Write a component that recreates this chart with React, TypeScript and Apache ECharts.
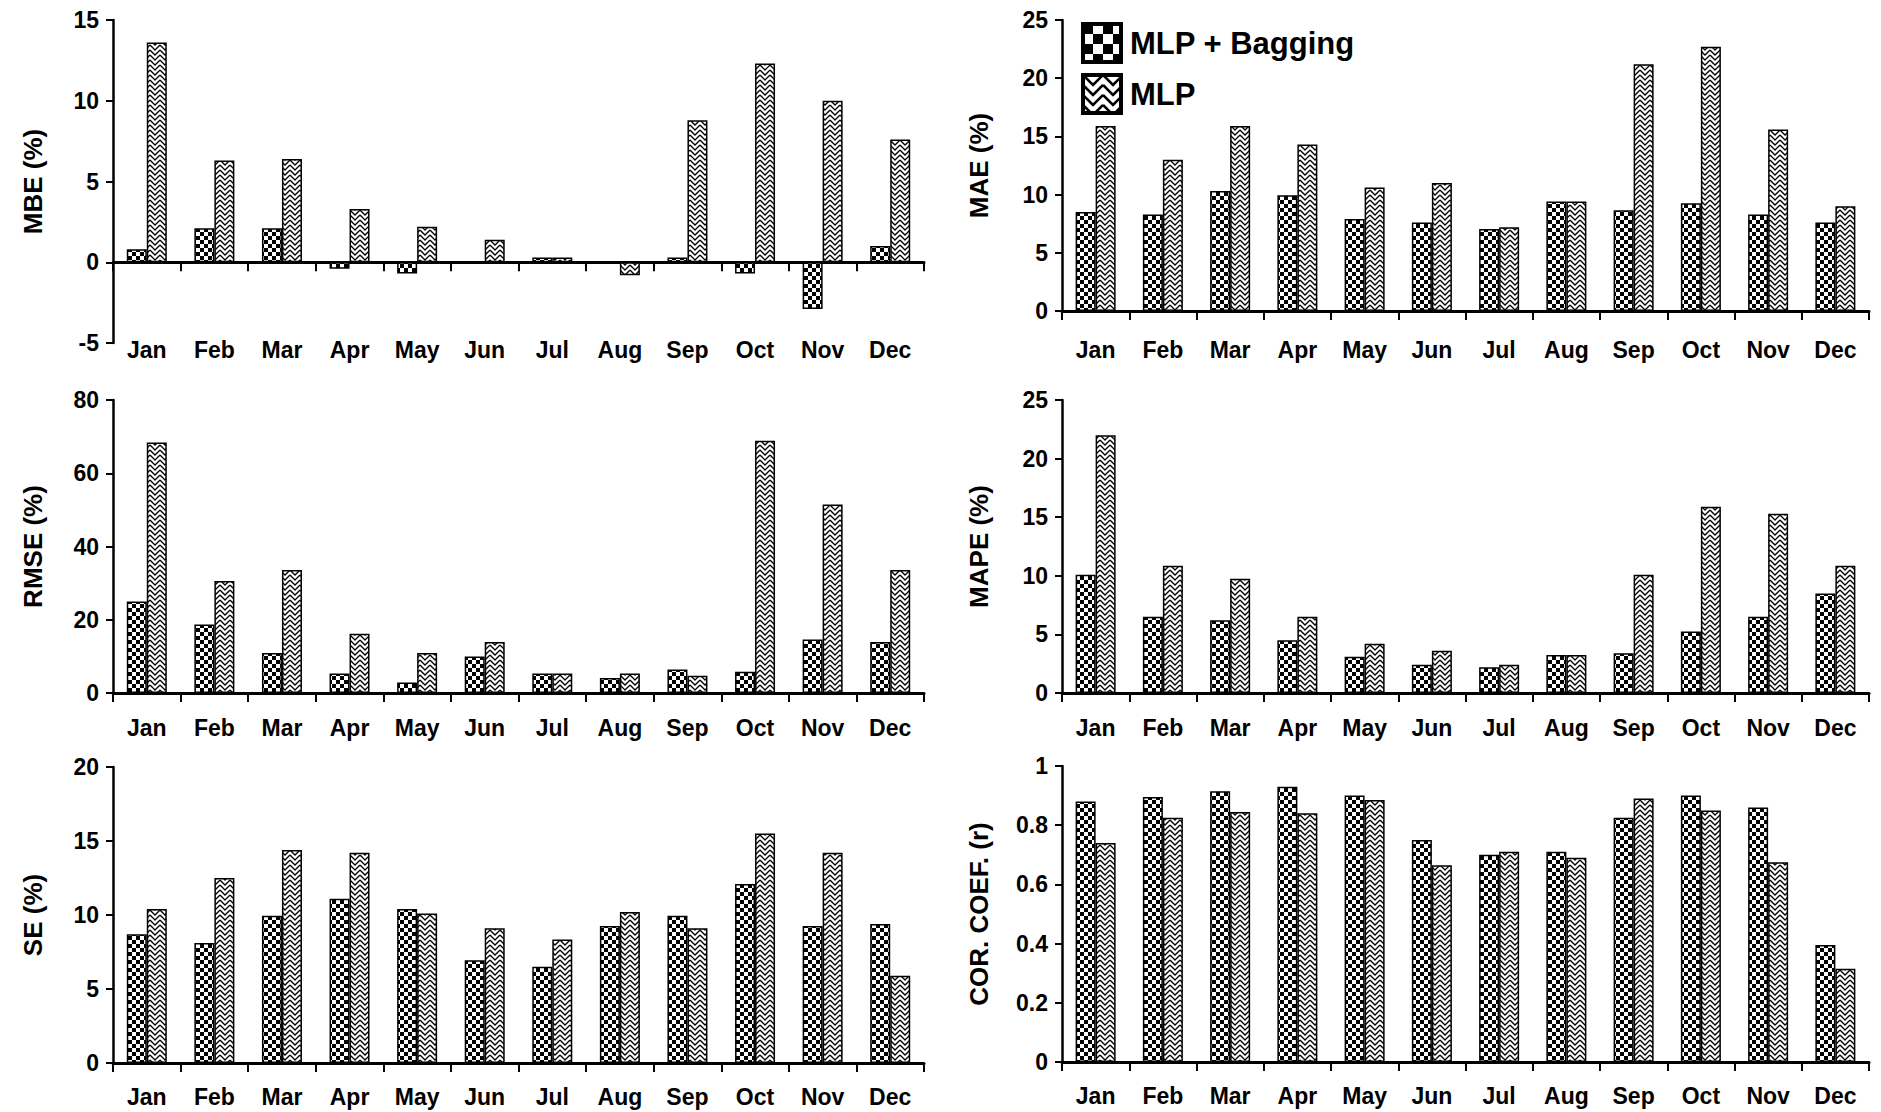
import React, { useEffect, useRef } from "react";
import * as echarts from "echarts";

const months = ["Jan", "Feb", "Mar", "Apr", "May", "Jun", "Jul", "Aug", "Sep", "Oct", "Nov", "Dec"];
const seriesNames = ["MLP + Bagging", "MLP"];

const mbeBagging = [0.8, 2.1, 2.1, -0.4, -0.7, 0, 0.3, 0, 0.3, -0.7, -2.9, 1.0];
const mbeMlp = [13.6, 6.3, 6.4, 3.3, 2.2, 1.4, 0.3, -0.8, 8.8, 12.3, 10.0, 7.6];
const maeBagging = [8.5, 8.3, 10.3, 9.95, 7.9, 7.6, 7.05, 9.4, 8.65, 9.25, 8.3, 7.6];
const maeMlp = [15.9, 13.0, 15.9, 14.3, 10.6, 11.0, 7.2, 9.4, 21.2, 22.7, 15.6, 9.0];
const rmseBagging = [25, 18.7, 10.9, 5.3, 2.9, 10.0, 5.3, 4.1, 6.4, 5.8, 14.6, 13.9];
const rmseMlp = [68.4, 30.6, 33.6, 16.2, 10.9, 13.9, 5.3, 5.3, 4.7, 68.9, 51.5, 33.6];
const mapeBagging = [10.1, 6.5, 6.2, 4.5, 3.1, 2.4, 2.2, 3.25, 3.4, 5.25, 6.5, 8.5];
const mapeMlp = [22.0, 10.85, 9.75, 6.5, 4.2, 3.6, 2.4, 3.25, 10.1, 15.9, 15.3, 10.85];
const seBagging = [8.7, 8.1, 9.95, 11.1, 10.4, 6.95, 6.5, 9.25, 9.95, 12.1, 9.25, 9.4];
const seMlp = [10.4, 12.5, 14.4, 14.2, 10.1, 9.1, 8.35, 10.2, 9.1, 15.5, 14.2, 5.9];
const corBagging = [0.88, 0.895, 0.915, 0.93, 0.9, 0.75, 0.7, 0.71, 0.825, 0.9, 0.86, 0.395];
const corMlp = [0.74, 0.825, 0.845, 0.84, 0.885, 0.665, 0.71, 0.69, 0.89, 0.85, 0.675, 0.315];

const axisTitles = ["MBE (%)", "MAE (%)", "RMSE (%)", "MAPE (%)", "SE (%)", "COR. COEF. (r)"];
const axisMins = [-5, 0, 0, 0, 0, 0];
const axisMaxs = [15, 25, 80, 25, 20, 1];
const axisIntervals = [5, 5, 20, 5, 5, 0.2];

const panelData = [
  [mbeBagging, mbeMlp],
  [maeBagging, maeMlp],
  [rmseBagging, rmseMlp],
  [mapeBagging, mapeMlp],
  [seBagging, seMlp],
  [corBagging, corMlp],
];

const grids = [
  { left: 113, top: 20, width: 811, height: 323 },
  { left: 1062, top: 20, width: 807, height: 291 },
  { left: 113, top: 400, width: 811, height: 293 },
  { left: 1062, top: 400, width: 807, height: 293 },
  { left: 113, top: 767, width: 811, height: 296 },
  { left: 1062, top: 766, width: 807, height: 296 },
];
const xLabelMargins = [-5, 27, 23, 23, 22, 22];
const nameGaps = [67, 70, 67, 70, 67, 70];

const FONT = '"Liberation Sans", Arial, sans-serif';

function checkerPattern(cell: number) {
  const c = document.createElement("canvas");
  c.width = cell * 2;
  c.height = cell * 2;
  const ctx = c.getContext("2d")!;
  ctx.fillStyle = "#fff";
  ctx.fillRect(0, 0, cell * 2, cell * 2);
  ctx.fillStyle = "#000";
  ctx.fillRect(0, 0, cell, cell);
  ctx.fillRect(cell, cell, cell, cell);
  return { image: c.toDataURL(), repeat: "repeat", imageWidth: cell * 2, imageHeight: cell * 2 };
}

function weavePattern(s: number) {
  const size = 10 * s;
  const c = document.createElement("canvas");
  c.width = size;
  c.height = size;
  const ctx = c.getContext("2d")!;
  ctx.fillStyle = "#fff";
  ctx.fillRect(0, 0, size, size);
  ctx.strokeStyle = "#000";
  ctx.lineWidth = 1.3 * s;
  ctx.beginPath();
  for (let k = -1; k <= 2; k++) {
    const y0 = k * 5 * s;
    ctx.moveTo(0, y0);
    ctx.lineTo(5 * s, y0 + 5 * s);
    ctx.lineTo(10 * s, y0);
  }
  ctx.stroke();
  return { image: c.toDataURL(), repeat: "repeat", imageWidth: size, imageHeight: size };
}

function fmt(v: number) {
  return String(+v.toFixed(1));
}

export default function App() {
  const ref = useRef<HTMLDivElement>(null);

  useEffect(() => {
    if (!ref.current) return;
    const chart = echarts.init(ref.current, undefined, { renderer: "svg" });
    const checker = checkerPattern(4);
    const weave = weavePattern(1);
    const bigChecker = checkerPattern(10);
    const bigWeave = weavePattern(2);

    const xAxis = grids.map((_, i) => ({
      type: "category",
      gridIndex: i,
      data: months,
      axisLine: { show: true, onZero: true, lineStyle: { color: "#000", width: 3 } },
      axisTick: { show: true, interval: 0, length: 9, lineStyle: { color: "#000", width: 2 } },
      axisLabel: {
        interval: 0,
        margin: xLabelMargins[i],
        color: "#000",
        fontFamily: FONT,
        fontWeight: "bold",
        fontSize: 23,
      },
      splitLine: { show: false },
    }));

    const yAxis = grids.map((_, i) => ({
      type: "value",
      gridIndex: i,
      min: axisMins[i],
      max: axisMaxs[i],
      interval: axisIntervals[i],
      name: axisTitles[i],
      nameLocation: "middle",
      nameRotate: 90,
      nameGap: nameGaps[i],
      nameTextStyle: { fontFamily: FONT, fontWeight: "bold", fontSize: 26, color: "#000" },
      axisLine: { show: true, lineStyle: { color: "#000", width: 2.5 } },
      axisTick: { show: true, length: 7, lineStyle: { color: "#000", width: 2 } },
      axisLabel: {
        margin: 14,
        color: "#000",
        fontFamily: FONT,
        fontWeight: "bold",
        fontSize: 23,
        formatter: (v: number) => fmt(v),
      },
      splitLine: { show: false },
    }));

    const series: any[] = [];
    panelData.forEach((pair, i) => {
      series.push({
        type: "bar",
        name: seriesNames[0],
        xAxisIndex: i,
        yAxisIndex: i,
        data: pair[0],
        barWidth: 20,
        barGap: "0%",
        itemStyle: { color: checker, borderColor: "#000", borderWidth: 1.5 },
        emphasis: { disabled: true },
      });
      series.push({
        type: "bar",
        name: seriesNames[1],
        xAxisIndex: i,
        yAxisIndex: i,
        data: pair[1],
        barWidth: 20,
        barGap: "0%",
        itemStyle: { color: weave, borderColor: "#000", borderWidth: 1.5 },
        emphasis: { disabled: true },
      });
    });

    chart.setOption({
      animation: false,
      backgroundColor: "#fff",
      grid: grids.map((g) => ({ ...g, containLabel: false })),
      xAxis,
      yAxis,
      legend: {
        left: 1076,
        top: 17,
        orient: "vertical",
        itemWidth: 38,
        itemHeight: 38,
        itemGap: 9,
        icon: "rect",
        selectedMode: false,
        textStyle: { fontFamily: FONT, fontWeight: "bold", fontSize: 31, color: "#000", padding: [0, 0, 0, 4] },
        data: [
          { name: seriesNames[0], itemStyle: { color: bigChecker, borderColor: "#000", borderWidth: 4 } },
          { name: seriesNames[1], itemStyle: { color: bigWeave, borderColor: "#000", borderWidth: 4 } },
        ],
      },
      series,
    });

    return () => {
      chart.dispose();
    };
  }, []);

  return (
    <div
      ref={ref}
      style={{ position: "fixed", left: 0, top: 0, width: 1881, height: 1112, background: "#fff" }}
    />
  );
}
